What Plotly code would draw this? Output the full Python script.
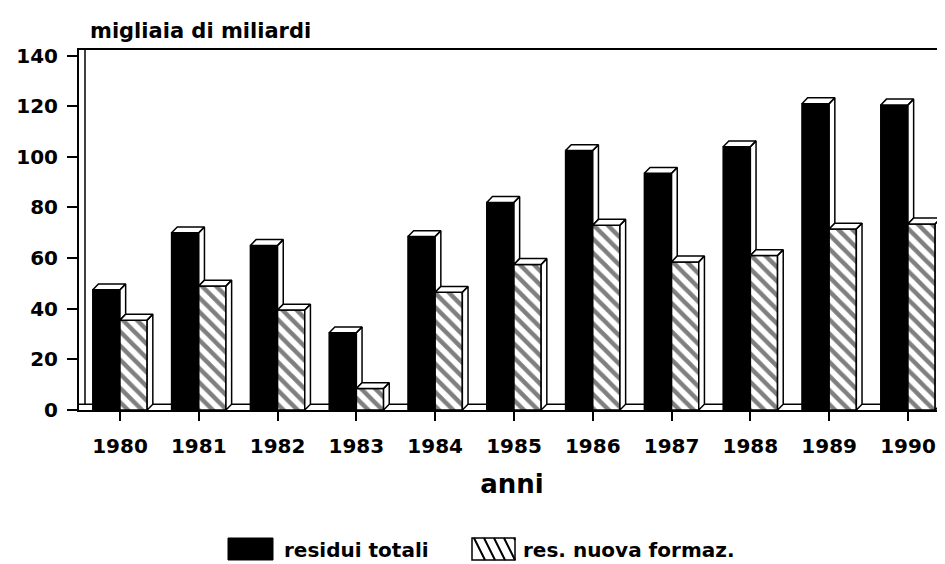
import plotly.graph_objects as go

years = ["1980", "1981", "1982", "1983", "1984", "1985", "1986", "1987", "1988", "1989", "1990"]
residui_totali = [47.5, 70, 65, 30.5, 68.5, 82, 102.5, 93.5, 104, 121, 120.5]
res_nuova_formaz = [35.5, 49, 39.5, 8.5, 46.5, 57.5, 73, 58.5, 61, 71.5, 73.5]
series_names = ["residui totali", "res. nuova formaz."]
y_ticks = [0, 20, 40, 60, 80, 100, 120, 140]

FONT = "DejaVu Sans"
BARGAP = 0.31
BW = (1 - BARGAP) / 2          # width of one bar in category units
DX, DY = 0.072, 2.3            # 3D depth offset (x units, y units)

# page body has an 8px margin: compensate so the plot area lands at 79..945 x 50..410
W, H = 937, 556
ML, MT = 71, 42
PLOT_W, PLOT_H = 866, 360
MB = H - MT - PLOT_H
OFF = 8


def px(x):  # window pixel -> paper x
    return (x - OFF - ML) / PLOT_W


def py(y):  # window pixel -> paper y
    return (OFF + MT + PLOT_H - y) / PLOT_H


xs = list(range(len(years)))

fig = go.Figure()
fig.add_trace(go.Bar(
    x=xs, y=residui_totali, name=series_names[0], showlegend=False,
    marker=dict(color="black", line=dict(color="black", width=1.5)),
))
fig.add_trace(go.Bar(
    x=xs, y=res_nuova_formaz, name=series_names[1], showlegend=False,
    marker=dict(color="white", line=dict(color="black", width=1.5),
                pattern=dict(shape="\\", size=10, solidity=0.45,
                             fgcolor="black", bgcolor="white", fillmode="overlay")),
))

# 3D caps derived from the data values
bx, by = [], []
hx, hy = [], []
for i, (b, h) in enumerate(zip(residui_totali, res_nuova_formaz)):
    bx0, bx1 = i - BW, i
    hx0, hx1 = i, i + BW
    bx += [bx0, bx1, bx1 + DX, bx0 + DX, bx0, None]
    by += [b, b, b + DY, b + DY, b, None]
    bx += [bx1, bx1, bx1 + DX, bx1 + DX, bx1, None]
    by += [h, b, b + DY, h + DY, h, None]
    hx += [hx0, hx1, hx1 + DX, hx0 + DX, hx0, None]
    hy += [h, h, h + DY, h + DY, h, None]
    hx += [hx1, hx1, hx1 + DX, hx1 + DX, hx1, None]
    hy += [0, h, h + DY, DY, 0, None]

for cx, cy in ((bx, by), (hx, hy)):
    fig.add_trace(go.Scatter(
        x=cx, y=cy, mode="lines", fill="toself", fillcolor="white",
        line=dict(color="black", width=1.5), showlegend=False, hoverinfo="skip",
    ))

shapes = [
    # floor back edge and left wall inner edge (3D frame)
    dict(type="line", xref="paper", yref="y", x0=0, x1=1, y0=DY, y1=DY,
         line=dict(color="black", width=1.5), layer="below"),
    dict(type="line", xref="paper", yref="y", x0=px(85), x1=px(85), y0=DY, y1=142.2,
         line=dict(color="black", width=1.5), layer="below"),
]

# custom legend (large swatches like the reference)
sw_top, sw_bot = 538, 560
leg = [(228, 273, 282), (472, 515, 521)]
shapes.append(dict(type="rect", xref="paper", yref="paper",
                   x0=px(leg[0][0]), x1=px(leg[0][1]), y0=py(sw_bot), y1=py(sw_top),
                   fillcolor="black", line=dict(color="black", width=1)))
shapes.append(dict(type="rect", xref="paper", yref="paper",
                   x0=px(leg[1][0]), x1=px(leg[1][1]), y0=py(sw_bot), y1=py(sw_top),
                   fillcolor="white", line=dict(color="black", width=1.5)))
hatch_path = ""
for k in range(5):
    x_start = leg[1][0] + 2 + k * 10
    x_end = x_start + 11
    x_end_c = min(x_end, leg[1][1])
    y_end = sw_top + (x_end_c - x_start) * (sw_bot - sw_top) / (x_end - x_start)
    hatch_path += f"M{px(x_start)},{py(sw_top)} L{px(x_end_c)},{py(y_end)} "
shapes.append(dict(type="path", xref="paper", yref="paper", path=hatch_path,
                   line=dict(color="black", width=2)))

annotations = [dict(
    text="migliaia di miliardi", xref="paper", yref="paper",
    x=px(88), y=py(31), xanchor="left", yanchor="middle", showarrow=False,
    font=dict(family=FONT, size=21, color="black", weight="bold"),
)]
for (s0, s1, tx), name in zip(leg, series_names):
    annotations.append(dict(
        text=name, xref="paper", yref="paper", x=px(tx), y=py(550),
        xanchor="left", yanchor="middle", showarrow=False,
        font=dict(family=FONT, size=20, color="black", weight="bold"),
    ))

fig.update_layout(
    width=W, height=H,
    margin=dict(l=ML, r=0, t=MT, b=MB, autoexpand=False),
    paper_bgcolor="white", plot_bgcolor="white",
    barmode="group", bargap=BARGAP, bargroupgap=0,
    font=dict(family=FONT, size=20, color="black", weight="bold"),
    showlegend=False,
    shapes=shapes,
    annotations=annotations,
)
fig.update_xaxes(
    range=[-0.52, 10.47], tickmode="array", tickvals=xs, ticktext=years,
    showgrid=False, zeroline=False, showline=True, linecolor="black", linewidth=2,
    mirror=True, ticks="outside", ticklen=9, tickwidth=2, tickcolor="black",
    ticklabelstandoff=8,
    tickfont=dict(family=FONT, size=20, color="black", weight="bold"),
    title=dict(text="anni", standoff=18,
               font=dict(family=FONT, size=26, color="black", weight="bold")),
)
fig.update_yaxes(
    range=[0, 142.2], tickmode="array", tickvals=y_ticks,
    showgrid=False, zeroline=False, showline=True, linecolor="black", linewidth=2,
    ticks="outside", ticklen=10, tickwidth=2, tickcolor="black",
    ticklabelstandoff=5,
    tickfont=dict(family=FONT, size=20, color="black", weight="bold"),
)

fig.write_html("out.html")
